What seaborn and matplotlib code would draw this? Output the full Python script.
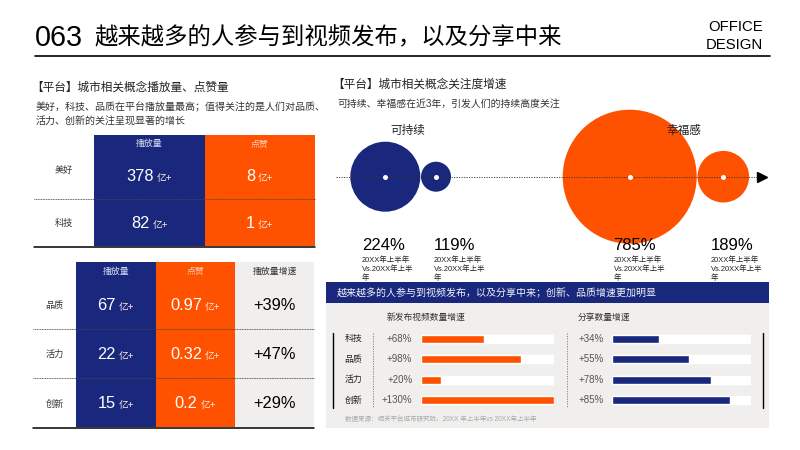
import matplotlib
matplotlib.use("Agg")
import matplotlib.pyplot as plt
from matplotlib.colors import ListedColormap
from matplotlib.patches import Rectangle
import numpy as np
import pandas as pd
import seaborn as sns

sns.set_theme(style="white")
plt.rcParams["font.family"] = ["Liberation Sans", "Noto Sans CJK SC", "DejaVu Sans"]

NAVY = "#19277C"
ORANGE = "#FF5200"
GREY = "#F0EFED"
W, H = 800, 450

# full-width punctuation
COMMA = "\uff0c"
SEMI = "\uff1b"
COLON = "\uff1a"

# ---- data ----
t1_rows = ["美好", "科技"]
t1_play = [378, 82]
t1_like = [8, 1]

t2_rows = ["品质", "活力", "创新"]
t2_play = [67, 22, 15]
t2_like = [0.97, 0.32, 0.2]
t2_speed = [39, 47, 29]

bubble_names = ["可持续", "幸福感"]
bubble_growth = [224, 119, 785, 189]

bar_rows = ["科技", "品质", "活力", "创新"]
video_labels = [68, 98, 20, 130]
video_bars = [62, 98, 20, 130]
share_labels = [34, 55, 78, 85]
share_bars = [34, 55, 71, 85]

fig = plt.figure(figsize=(8, 4.5), dpi=100, facecolor="white")


def px_axes(x0, y0, x1, y1, z=1):
    # axes placed by pixel box, y counted from the top
    ax = fig.add_axes([x0 / W, 1 - y1 / H, (x1 - x0) / W, (y1 - y0) / H], zorder=z)
    ax.patch.set_alpha(0)
    return ax


bg = px_axes(0, 0, W, H, z=0)
fg = px_axes(0, 0, W, H, z=10)
for a in (bg, fg):
    a.set_xlim(0, W)
    a.set_ylim(H, 0)
    a.axis("off")


def label(x, y, s, size=7, color="#222222", ha="left", va="center"):
    fg.text(x, y, s, fontsize=size, color=color, ha=ha, va=va)


# ---- header ----
label(35, 38, "063", size=20.7, color="black")
label(94, 38, f"越来越多的人参与到视频发布{COMMA}以及分享中来", size=16.8, color="black")
label(763, 27, "OFFICE", size=10.7, color="black", ha="right")
label(763, 45, "DESIGN", size=10.7, color="black", ha="right")
fg.plot([35, 770], [56, 56], color="black", lw=1.2)


# ---- tables ----
def draw_table(x0, col_w, top, head_bottom, row_h, heads, col_colors, head_colors, columns):
    n_cols, n_rows = len(heads), len(columns[0])
    cmap = ListedColormap(col_colors)
    grid = np.tile(np.arange(n_cols), (n_rows, 1))
    x1 = x0 + n_cols * col_w

    head_ax = px_axes(x0, top, x1, head_bottom)
    sns.heatmap(grid[:1], cmap=cmap, vmin=-0.5, vmax=n_cols - 0.5, cbar=False,
                xticklabels=False, yticklabels=False, ax=head_ax)
    for i, h in enumerate(heads):
        head_ax.text(i + 0.5, 0.5, h, fontsize=6.4, color=head_colors[i], ha="center", va="center")

    body_ax = px_axes(x0, head_bottom, x1, head_bottom + n_rows * row_h)
    sns.heatmap(grid, cmap=cmap, vmin=-0.5, vmax=n_cols - 0.5, cbar=False,
                xticklabels=False, yticklabels=False, ax=body_ax)
    rend = fig.canvas.get_renderer()
    for c, col in enumerate(columns):
        for r, (num, unit) in enumerate(col):
            color = "white" if unit else "black"
            num_t = body_ax.annotate(num, (c + 0.5, r + 0.5), xytext=(0, -4), textcoords="offset points",
                                     fontsize=11.8, color=color, ha="left", va="baseline")
            w = num_t.get_window_extent(rend).width * 0.72
            unit_w = 0
            if unit:
                unit_t = body_ax.annotate(unit, (c + 0.5, r + 0.5), xytext=(0, -4), textcoords="offset points",
                                          fontsize=7, color="#FFE8DC", ha="left", va="baseline")
                unit_w = unit_t.get_window_extent(rend).width * 0.72 + 2.2
                unit_t.xyann = ((w + unit_w) / 2 - unit_w + 2.2, -4)
            num_t.xyann = (-(w + unit_w) / 2, -4)
    return x1


HEAD_LIGHT = ["#D5D9F0", "#FFD5BC", "#333333"]

x_end = draw_table(94, 110.5, 135, 152, 47, ["播放量", "点赞"], [NAVY, ORANGE], HEAD_LIGHT,
                   [[(str(v), "亿+") for v in t1_play], [(str(v), "亿+") for v in t1_like]])
fg.plot([34, x_end], [199.3, 199.3], color="#444444", lw=0.6, ls=(0, (1.2, 0.8)))
fg.plot([34, x_end], [246.5, 246.5], color="black", lw=1.1)
for y, name in zip([170, 223], t1_rows):
    label(64, y, name, size=6.6, color="#333333", ha="center")

x_end = draw_table(76.3, 79.3, 262, 280, 49, ["播放量", "点赞", "播放量增速"], [NAVY, ORANGE, GREY], HEAD_LIGHT,
                   [[(str(v), "亿+") for v in t2_play], [(str(v), "亿+") for v in t2_like],
                    [(f"+{v}%", "") for v in t2_speed]])
for y in (329, 378):
    fg.plot([33, x_end], [y, y], color="#444444", lw=0.6, ls=(0, (1.2, 0.8)))
fg.plot([33, x_end], [428, 428], color="black", lw=1.1)
for y, name in zip([305, 354, 404], t2_rows):
    label(54.7, y, name, size=6.6, color="#333333", ha="center")

label(31, 88, "【平台】城市相关概念播放量、点赞量", size=8.4)
label(35.5, 107, f"美好{COMMA}科技、品质在平台播放量最高{SEMI}值得关注的是人们对品质、", size=7.2, color="#333333")
label(35.5, 122, "活力、创新的关注呈现显著的增长", size=7.2, color="#333333")

# ---- bubbles ----
label(332, 85, "【平台】城市相关概念关注度增速", size=8.4)
label(337, 104, f"可持续、幸福感在近3年{COMMA}引发人们的持续高度关注", size=7.1, color="#333333")

bubble_x = [385.3, 436, 629.7, 723.3]
bubble_d = [70, 30, 134, 51.6]
AXIS_Y = 176.7
sizes = {g: (d * 0.72) ** 2 for g, d in zip(bubble_growth, bubble_d)}
bubbles = pd.DataFrame({"x": bubble_x, "y": AXIS_Y, "growth": bubble_growth,
                        "group": ["a", "a", "b", "b"]})
sns.scatterplot(data=bubbles, x="x", y="y", size="growth", sizes=sizes, hue="group",
                palette={"a": NAVY, "b": ORANGE}, linewidth=0, legend=False, zorder=2, ax=fg)
fg.plot([336, 760], [AXIS_Y, AXIS_Y], color="#333333", lw=0.6, ls=(0, (1.5, 1.5)), zorder=3)
fg.plot([762], [AXIS_Y], marker=">", color="black", ms=6.5, zorder=3)
sns.scatterplot(data=bubbles, x="x", y="y", color="white", s=13, linewidth=0, legend=False, zorder=4, ax=fg)
fg.set_xlim(0, W)
fg.set_ylim(H, 0)
fg.axis("off")

label(407.7, 131, bubble_names[0], size=8.4, ha="center")
label(684, 131, bubble_names[1], size=8.4, ha="center")

for x, g in zip([361.7, 433.5, 613.5, 711], bubble_growth):
    fg.text(x, 246, f"{g}%", fontsize=12, color="black", va="center", zorder=5)
    for y, s in zip([259.7, 269, 278], ["20XX年上半年", "Vs.20XX年上半", "年"]):
        fg.text(x, y, s, fontsize=5.4, color="#222222", va="center", zorder=5)

# ---- bottom right panel ----
bg.add_patch(Rectangle((326, 303), 443, 125, color=GREY, lw=0))
bg.add_patch(Rectangle((326, 281.7), 443, 21.6, color=NAVY, lw=0))
label(337, 293, f"越来越多的人参与到视频发布{COMMA}以及分享中来{SEMI}创新、品质增速更加明显", size=7.2, color="#F2F3FA")
label(386.3, 317.3, "新发布视频数量增速", size=6.3, color="#333333")
label(578, 317.3, "分享数量增速", size=6.3, color="#333333")

ROW_TOP, ROW_H = 328.4, 20.55
rows_y = [ROW_TOP + ROW_H * (i + 0.5) for i in range(len(bar_rows))]


def draw_bars(x0, x1, values, xmax, color):
    ax = px_axes(x0, ROW_TOP, x1, ROW_TOP + ROW_H * len(bar_rows), z=2)
    sns.barplot(x=[xmax] * len(bar_rows), y=bar_rows, color="white", saturation=1, width=0.4, ax=ax)
    sns.barplot(x=values, y=bar_rows, color=color, saturation=1, width=0.4, ax=ax)
    ax.set_xlim(0, xmax)
    ax.set_ylim(len(bar_rows) - 0.5, -0.5)
    ax.axis("off")


draw_bars(421, 553.7, video_bars, 130, ORANGE)
draw_bars(612.3, 751, share_bars, 100, NAVY)

for y, name, v, s in zip(rows_y, bar_rows, video_labels, share_labels):
    label(353.3, y, name, size=6.4, ha="center")
    label(412.3, y, f"+{v}%", size=7, color="#555555", ha="right")
    label(603.3, y, f"+{s}%", size=7, color="#555555", ha="right")

for x in (332.7, 762.7):
    fg.plot([x, x], [333.3, 408.3], color="black", lw=1)
for x in (373.3, 566.7):
    fg.plot([x, x], [333.3, 408.3], color="#777777", lw=0.6, ls=(0, (1.5, 1.5)))

label(345, 419.3, f"数据来源{COLON}相关平台城市研究院{COMMA}20XX 年上半年vs 20XX年上半年", size=4.7, color="#AAAAAA")

plt.savefig("out.png", dpi=100)
